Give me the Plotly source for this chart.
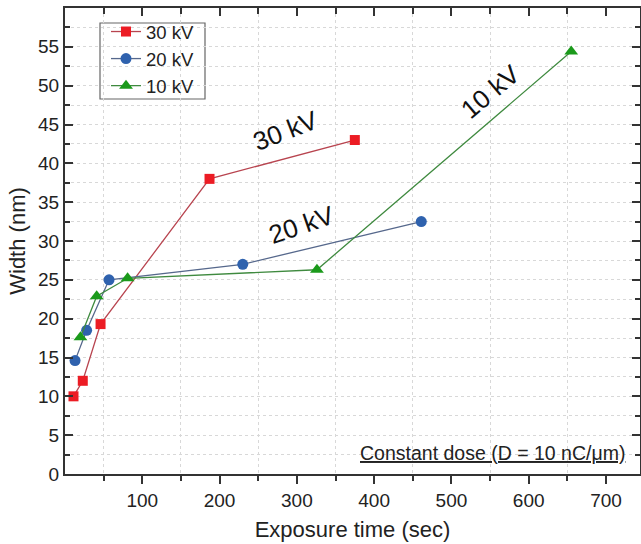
import plotly.graph_objects as go

# Data
t_30kv = [11, 23, 46, 187, 375]
w_30kv = [10.0, 12.0, 19.3, 38.0, 43.0]

t_20kv = [13, 28, 57, 230, 461]
w_20kv = [14.6, 18.5, 25.0, 27.0, 32.5]

t_10kv = [20, 41, 81, 326, 655]
w_10kv = [17.6, 22.9, 25.2, 26.3, 54.4]

x_ticks = [100, 200, 300, 400, 500, 600, 700]
x_minor = [50, 150, 250, 350, 450, 550, 650]
y_ticks = list(range(0, 60, 5))

FONT = "Liberation Sans, Arial, sans-serif"
AX = "#333333"
TXT = "#222222"

# plot-area pixel box (used to place annotations / legend frame)
L, R, T, B = 65, 640, 8, 474

fig = go.Figure()

fig.add_trace(go.Scatter(
    x=t_30kv, y=w_30kv, name="30 kV", mode="lines+markers",
    line=dict(color="#b8444f", width=1.3),
    marker=dict(symbol="square", size=10, color="#ec1c24"),
))
fig.add_trace(go.Scatter(
    x=t_20kv, y=w_20kv, name="20 kV", mode="lines+markers",
    line=dict(color="#56688c", width=1.3),
    marker=dict(symbol="circle", size=11, color="#2f62ae"),
))
fig.add_trace(go.Scatter(
    x=t_10kv, y=w_10kv, name="10 kV", mode="lines+markers",
    line=dict(color="#3f8a3f", width=1.3),
    marker=dict(symbol="triangle-up", size=12, color="#1b9a1b"),
))
# invisible trace to activate the top overlay axis
fig.add_trace(go.Scatter(x=[0], y=[0], xaxis="x2", mode="markers",
                         marker=dict(opacity=0), showlegend=False, hoverinfo="skip"))


def px_x(p):
    return (p - L) / (R - L)


def px_y(p):
    return (B - p) / (B - T)


def label(text, x, y, angle, size, **kw):
    return dict(text=text, x=px_x(x), y=px_y(y), xref="paper", yref="paper",
                showarrow=False, textangle=angle, xanchor=kw.get("xanchor", "center"),
                yanchor="middle", font=dict(size=size, family=FONT,
                                            color=kw.get("color", "#111111")))


fig.update_layout(
    width=641, height=544,
    margin=dict(l=L, r=641 - R, t=T, b=544 - B),
    paper_bgcolor="white", plot_bgcolor="white",
    font=dict(family=FONT, color=TXT, size=19),
    showlegend=True,
    legend=dict(
        x=px_x(106), y=px_y(13), xanchor="left", yanchor="top",
        bgcolor="rgba(0,0,0,0)", borderwidth=0,
        font=dict(size=18.5, family=FONT, color=TXT),
        tracegroupgap=0, itemsizing="trace",
    ),
    xaxis=dict(
        range=[0, 744], automargin=False,
        tickmode="array", tickvals=x_ticks,
        ticks="outside", ticklen=8, tickwidth=1.5, tickcolor=AX,
        showline=True, linecolor=AX, linewidth=2,
        showgrid=False, zeroline=False,
        tickfont=dict(size=19, family=FONT, color=TXT),
        minor=dict(tickvals=x_minor, ticks="outside",
                   ticklen=5, tickwidth=1.5, tickcolor=AX,
                   showgrid=True, gridcolor="#d8d8d8", griddash="dot", gridwidth=1),
        title=dict(text="Exposure time (sec)", font=dict(size=22, family=FONT, color=TXT),
                   standoff=12),
    ),
    xaxis2=dict(
        overlaying="x", side="top", matches="x", automargin=False,
        tickmode="array", tickvals=x_ticks, showticklabels=False,
        ticks="inside", ticklen=8, tickwidth=1.5, tickcolor=AX,
        showline=True, linecolor=AX, linewidth=2,
        showgrid=False, zeroline=False,
        minor=dict(tickvals=x_minor, ticks="inside",
                   ticklen=6, tickwidth=1.5, tickcolor=AX, showgrid=False),
    ),
    yaxis=dict(
        range=[0, 60], automargin=False,
        tickmode="array", tickvals=y_ticks,
        ticks="inside", ticklen=8, tickwidth=1.5, tickcolor=AX,
        showline=True, linecolor=AX, linewidth=2, mirror="ticks",
        showgrid=False, zeroline=False,
        tickfont=dict(size=19, family=FONT, color=TXT),
        minor=dict(dtick=2.5, tick0=0, ticks="inside", ticklen=5, tickwidth=1.5,
                   tickcolor=AX, showgrid=True, gridcolor="#d8d8d8",
                   griddash="dot", gridwidth=1),
        title=dict(text="Width (nm)", font=dict(size=22, family=FONT, color=TXT),
                   standoff=6),
    ),
    shapes=[
        # legend frame
        dict(type="rect", xref="paper", yref="paper",
             x0=px_x(100), x1=px_x(205), y0=px_y(99), y1=px_y(23),
             line=dict(color="#666666", width=1.2), fillcolor="white", layer="below"),
    ],
    annotations=[
        label("30 kV", 285, 131, -21, 26),
        label("20 kV", 301, 225, -19, 26),
        label("10 kV", 490, 92, -40, 26),
        label("<u>Constant dose (D = 10 nC/\u03bcm)</u>", 627, 453, 0, 19.5,
              xanchor="right", color=TXT),
    ],
)

fig.write_html("out.html", config={"displayModeBar": False},
               post_script="document.body.style.margin='0px';document.body.style.padding='0px';")
